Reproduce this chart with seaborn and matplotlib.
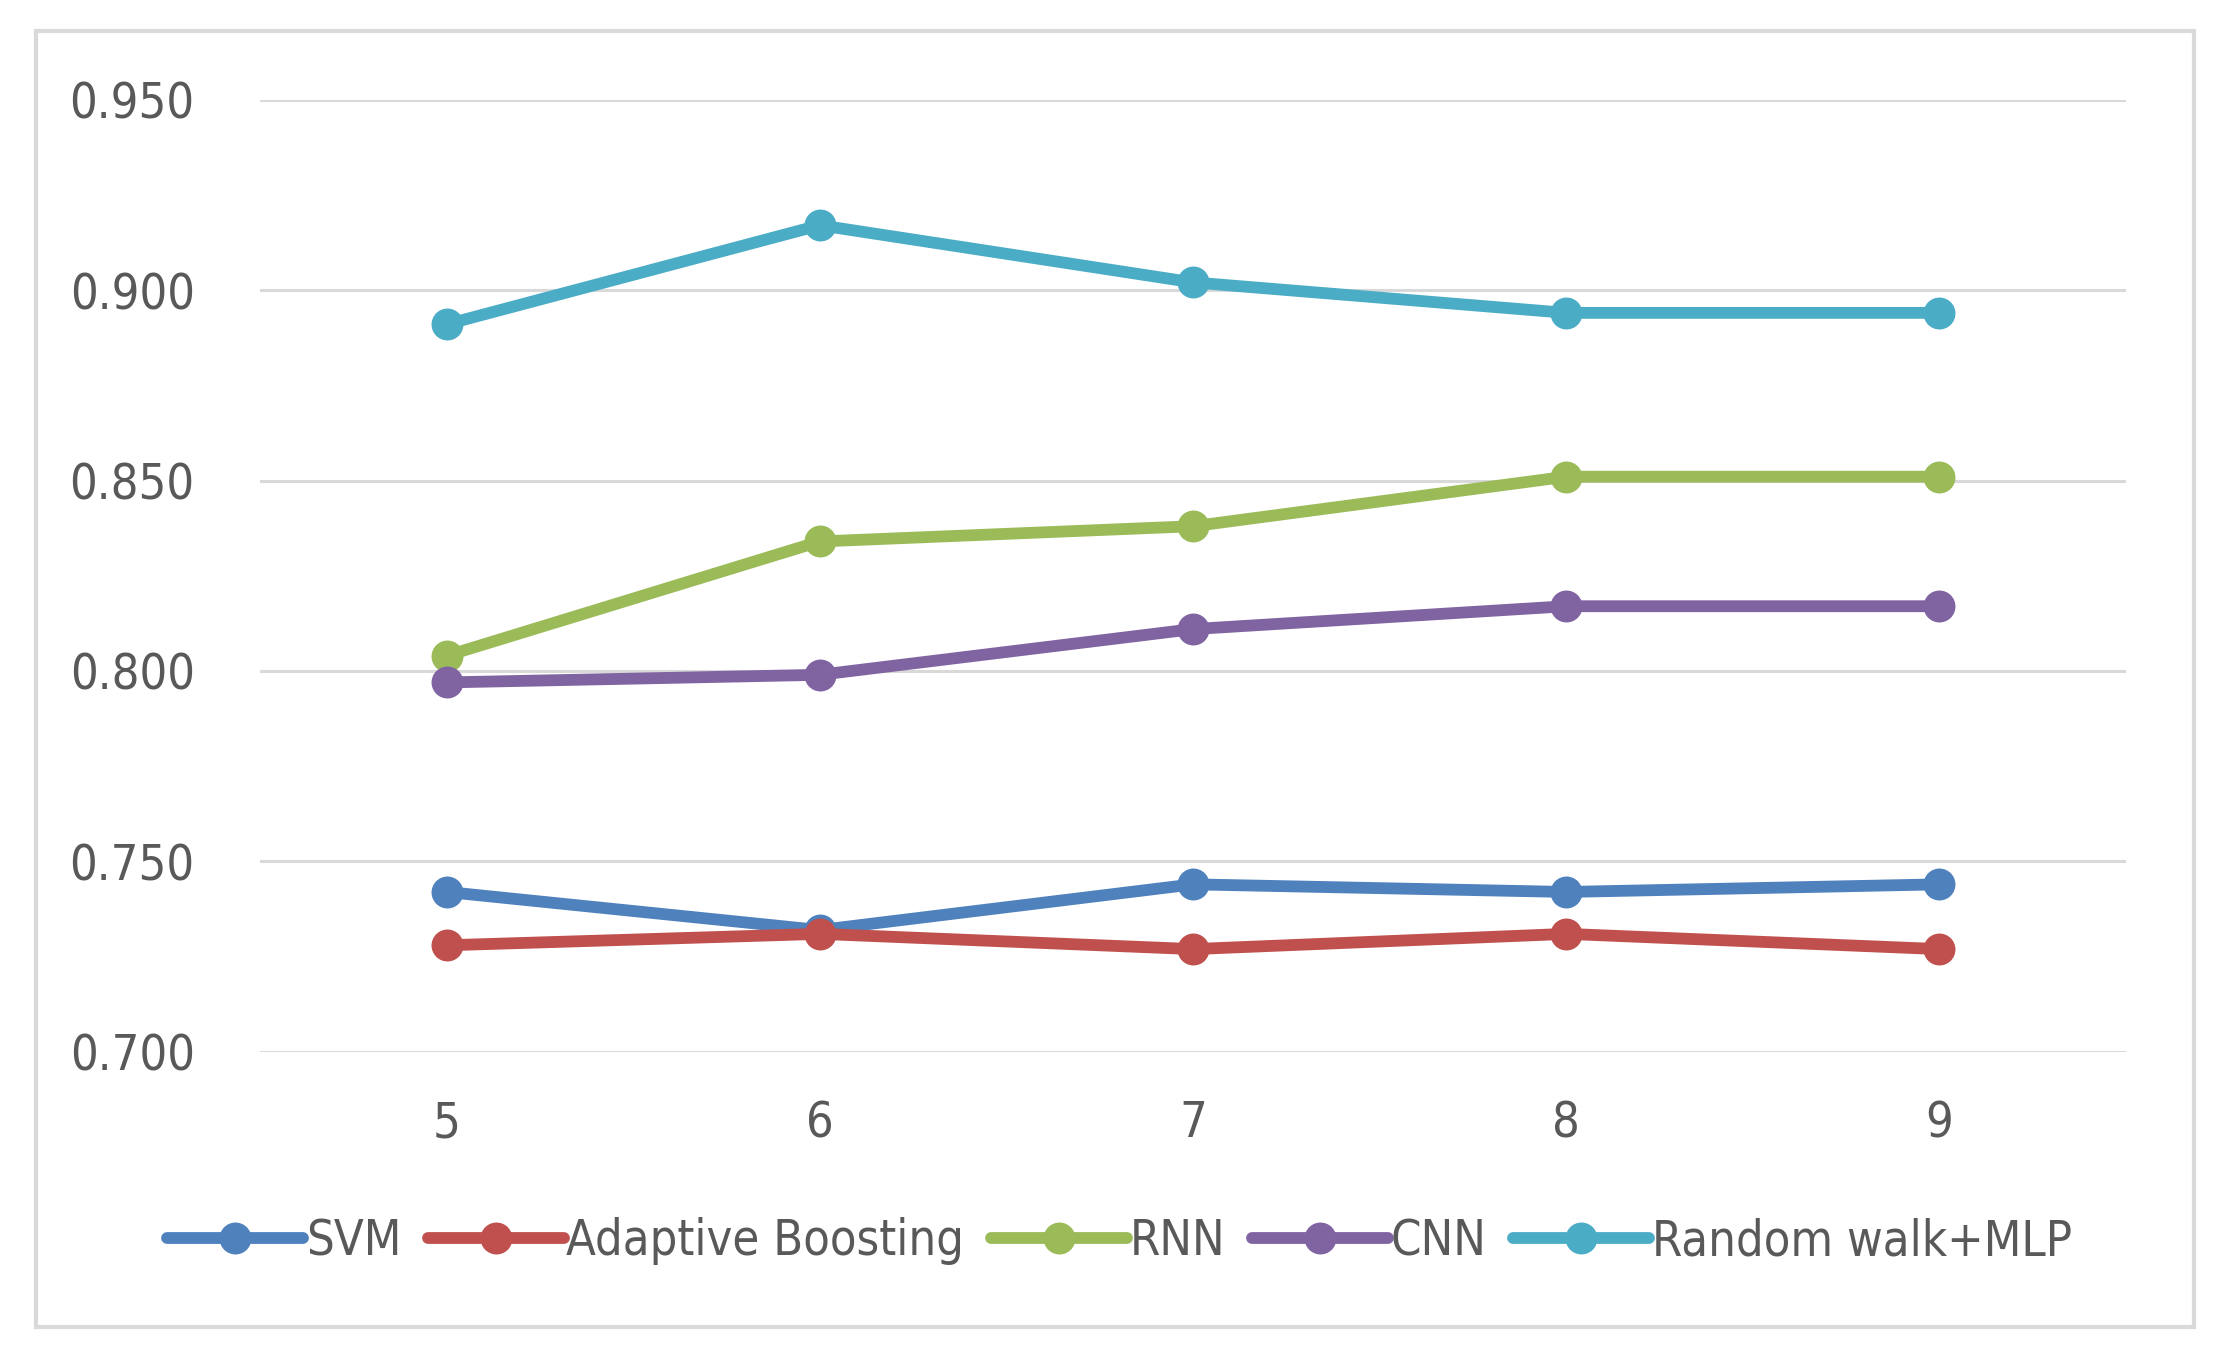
import pandas as pd
import matplotlib.pyplot as plt
import seaborn as sns
from matplotlib.patches import Rectangle

windows = [5, 6, 7, 8, 9]
models = ['SVM', 'Adaptive Boosting', 'RNN', 'CNN', 'Random walk+MLP']
svm = [0.742, 0.732, 0.744, 0.742, 0.744]
adaboost = [0.728, 0.731, 0.727, 0.731, 0.727]
rnn = [0.804, 0.834, 0.838, 0.851, 0.851]
cnn = [0.797, 0.799, 0.811, 0.817, 0.817]
rw_mlp = [0.891, 0.917, 0.902, 0.894, 0.894]
yticks = [0.700, 0.750, 0.800, 0.850, 0.900, 0.950]
colors = ['#4F81BD', '#C0504D', '#9BBB59', '#8064A2', '#4BACC6']

rows = []
for name, vals in zip(models, [svm, adaboost, rnn, cnn, rw_mlp]):
    for w, v in zip(windows, vals):
        rows.append({'window': w, 'value': v, 'model': name})
df = pd.DataFrame(rows)

sns.set_style('white')
plt.rcParams['font.family'] = ['DejaVu Sans']
plt.rcParams['font.stretch'] = 'condensed'
text_color = '#595959'

fig = plt.figure(figsize=(22.3, 13.71), dpi=100)
ax = fig.add_axes([0.1166, 0.2327, 0.8368, 0.6947])

sns.lineplot(data=df, x='window', y='value', hue='model', palette=colors,
             hue_order=models, marker='o', markersize=23, markeredgewidth=0,
             linewidth=8.5, ax=ax, legend=True, zorder=3)

ax.set_xlim(4.5, 9.5)
ax.set_ylim(0.700, 0.950)
ax.set_yticks(yticks)
ax.set_yticklabels([f'{t:.3f}' for t in yticks])
ax.set_xticks(windows)
ax.set_xticklabels([str(w) for w in windows])
ax.set_xlabel('')
ax.set_ylabel('')
ax.yaxis.grid(True, color='#D9D9D9', linewidth=2.2, zorder=0)
ax.xaxis.grid(False)
for s in ax.spines.values():
    s.set_visible(False)
ax.tick_params(axis='both', length=0, labelsize=35, colors=text_color)
ax.tick_params(axis='y', pad=47)
ax.tick_params(axis='x', pad=34)

handles, labels = ax.get_legend_handles_labels()
ax.legend(handles, labels, loc='center', bbox_to_anchor=(0.502, 0.0948),
          bbox_transform=fig.transFigure, ncol=5, frameon=False,
          fontsize=35, labelcolor=text_color, handlelength=2.8,
          handletextpad=0.05, columnspacing=0.55)

fig.patches.append(Rectangle((35.5 / 2230, 1 - 1327 / 1371), (2194 - 35.5) / 2230,
                             (1327 - 31) / 1371, transform=fig.transFigure,
                             fill=False, edgecolor='#D9D9D9', linewidth=3))

fig.savefig('out.png', dpi=100)
